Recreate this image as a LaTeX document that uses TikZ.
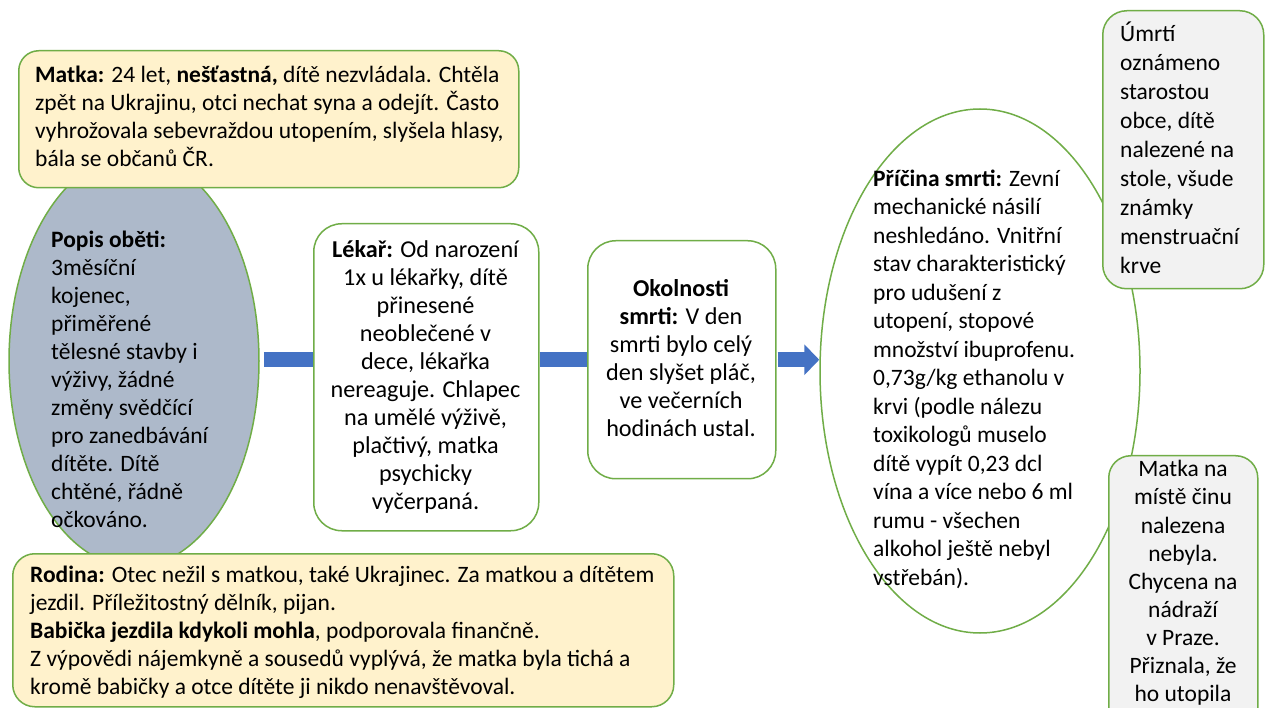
\documentclass[tikz,border=0pt]{standalone}
\usepackage{fontspec}
\setmainfont{Carlito}
\usetikzlibrary{arrows.meta,shapes.geometric}
\definecolor{grn}{HTML}{70AD47}
\definecolor{yel}{HTML}{FFF2CC}
\definecolor{blu}{HTML}{4472C4}
\definecolor{bluegray}{HTML}{ADB9CA}
\definecolor{lgray}{HTML}{F2F2F2}
\tikzset{
  box/.style={draw=grn, line width=1.5pt, inner sep=0pt, anchor=north west},
  oval/.style={ellipse, draw=grn, line width=1.5pt, inner sep=0pt},
  txt/.style={inner sep=0pt, text=black},
  fs/.style={font=\fontsize{23.5}{#1}\selectfont},
  fsb/.style={font=\fontsize{24.2}{#1}\selectfont},
  bluebar/.style={draw=blu, line width=15pt},
  bluearrow/.style={draw=blu, line width=15pt, -{Triangle[length=15pt,width=30pt]}, fill=blu}
}
\begin{document}
\begin{tikzpicture}[x=1pt,y=-1pt]
\clip (0,0) rectangle (1267,708);
\fill[white] (0,0) rectangle (1267,708);

% right ellipse and its boxes
\node[oval, fill=white, minimum width=320pt, minimum height=524pt] (righte) at (980,371) {};
\node[box, fill=lgray, rounded corners=24pt, minimum width=161pt, minimum height=278pt] (umrti) at (1102,10) {};
\node[box, fill=lgray, rounded corners=22pt, minimum width=149pt, minimum height=280pt] (matkar) at (1108,455) {};

% left ellipse
\node[oval, fill=bluegray, minimum width=250pt, minimum height=412pt] (lefte) at (134,361) {};

% middle boxes
\node[box, fill=white, rounded corners=28pt, minimum width=225pt, minimum height=307pt] (lekar) at (313,223) {};
\node[box, fill=white, rounded corners=28pt, minimum width=188pt, minimum height=238pt] (okol) at (587,240) {};

% connectors
\draw[bluebar] ([xshift=4pt]lefte.east |- okol.west) -- (lekar.west |- okol.west);
\draw[bluebar] (lekar.east |- okol.west) -- (okol.west);
\draw[bluearrow] ([xshift=1pt]okol.east) -- (righte.west |- okol.east);

% top and bottom yellow boxes
\node[box, fill=yel, rounded corners=20pt, minimum width=500pt, minimum height=137pt] (matka) at (18,50) {};
\node[box, fill=yel, rounded corners=22pt, minimum width=661pt, minimum height=153pt] (rodina) at (12,553) {};

% texts
\node[txt, fs=28, align=left, anchor=north west] (matkat) at (35,63) {\strut\textbf{Matka:} 24 let, \textbf{nešťastná,} dítě nezvládala. Chtěla\\zpět na Ukrajinu, otci nechat syna a odejít. Často\\vyhrožovala sebevraždou utopením, slyšela hlasy,\\bála se občanů ČR.};

\node[txt, fs=28, align=left, anchor=north west] (popist) at (51,228) {\strut\textbf{Popis oběti:}\\3měsíční\\kojenec,\\přiměřené\\tělesné stavby i\\výživy, žádné\\změny svědčící\\pro zanedbávání\\dítěte. Dítě\\chtěné, řádně\\očkováno.};

\node[txt, fsb=28, align=center, anchor=north] (lekart) at (425.5,238) {\strut\textbf{Lékař:} Od narození\\1x u lékařky, dítě\\přinesené\\neoblečené v\\dece, lékařka\\nereaguje. Chlapec\\na umělé výživě,\\plačtivý, matka\\psychicky\\vyčerpaná.};

\node[txt, fsb=28, align=center, anchor=north] (okolt) at (681,277) {\strut\textbf{Okolnosti}\\\textbf{smrti:} V den\\smrti bylo celý\\den slyšet pláč,\\ve večerních\\hodinách ustal.};

\node[txt, fs=28.5, align=left, anchor=north west] (pricinat) at (873,166) {\strut\textbf{Příčina smrti:} Zevní\\mechanické násilí\\neshledáno. Vnitřní\\stav charakteristický\\pro udušení z\\utopení, stopové\\množství ibuprofenu.\\0,73g/kg ethanolu v\\krvi (podle nálezu\\toxikologů muselo\\dítě vypít 0,23 dcl\\vína a více nebo 6 ml\\rumu - všechen\\alkohol ještě nebyl\\vstřebán).};

\node[txt, fs=29, align=left, anchor=north west] (umrtit) at (1120,21) {\strut Úmrtí\\oznámeno\\starostou\\obce, dítě\\nalezené na\\stole, všude\\známky\\menstruační\\krve};

\node[txt, fs=28.1, align=center, anchor=north] (matkart) at (1183,457) {\strut Matka na\\místě činu\\nalezena\\nebyla.\\Chycena na\\nádraží\\v Praze.\\Přiznala, že\\ho utopila};

\node[txt, fs=28, align=left, anchor=north west] (rodinat) at (30,563) {\strut\textbf{Rodina:} Otec nežil s matkou, také Ukrajinec. Za matkou a dítětem\\jezdil. Příležitostný dělník, pijan.\\\textbf{Babička jezdila kdykoli mohla}, podporovala finančně.\\Z výpovědi nájemkyně a sousedů vyplývá, že matka byla tichá a\\kromě babičky a otce dítěte ji nikdo nenavštěvoval.};
\end{tikzpicture}
\end{document}
